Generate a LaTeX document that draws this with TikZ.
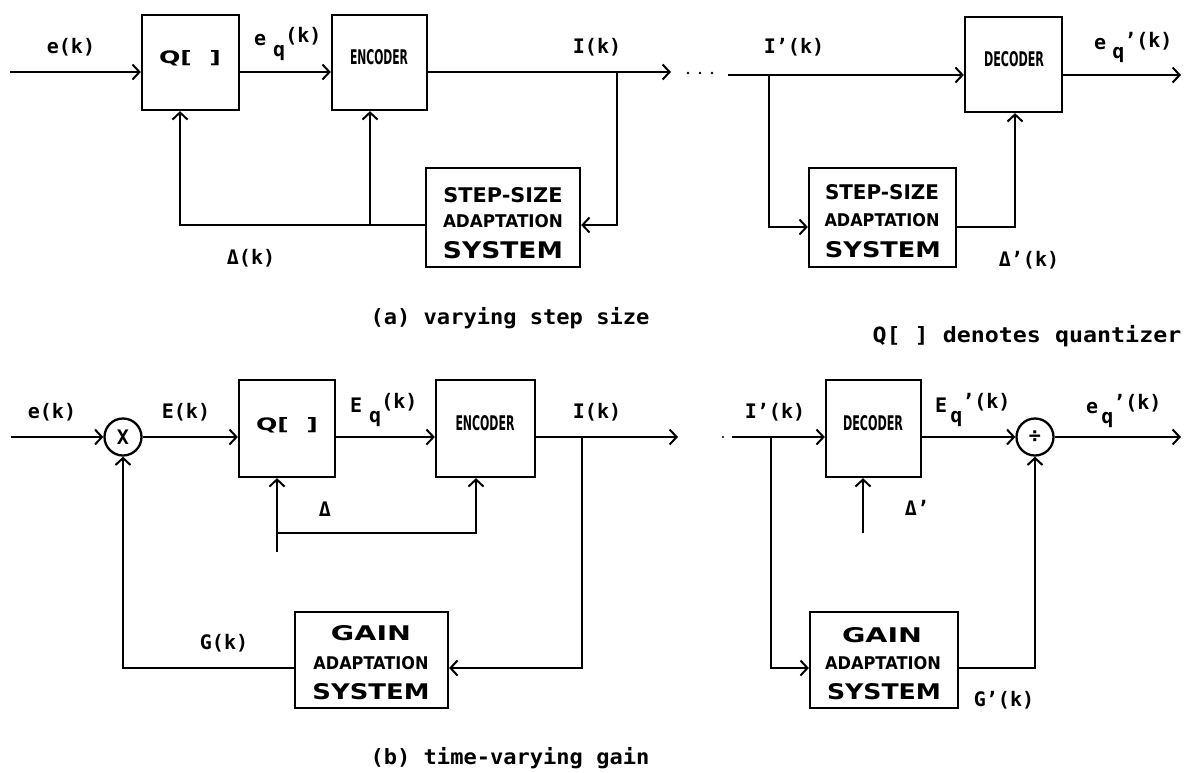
\documentclass[tikz,border=0pt]{standalone}
\usepackage{fontspec}
\usepackage{graphicx}
\usetikzlibrary{arrows.meta}
\newfontfamily\lblf{DejaVu Sans Mono}
\newfontfamily\capf[FakeStretch=1.05]{DejaVu Sans Mono}
\newfontfamily\capqf[FakeStretch=1.11]{DejaVu Sans Mono}
\newfontfamily\boxf{DejaVu Sans}
\newcommand{\mkfit}[3]{\resizebox{#1pt}{#2pt}{#3}}
\begin{document}
\begin{tikzpicture}[x=1pt,y=-1pt,
  blk/.style={draw, line width=2.3pt, inner sep=0pt},
  wire/.style={line width=2pt, line join=miter, -{Straight Barb[length=7pt,width=15pt]}},
  lbl/.style={font=\lblf\bfseries\fontsize{20}{22}\selectfont, inner sep=0pt},
  btxt/.style={inner sep=0pt},
  captxt/.style={font=\capf\bfseries\fontsize{21}{24}\selectfont, inner sep=0pt},
  sumj/.style={draw, circle, line width=2.3pt, minimum size=37pt, inner sep=0pt,
               font=\lblf\bfseries\fontsize{20}{22}\selectfont}]
\useasboundingbox (0,0) rectangle (1184,772);

% ---------- (a) boxes ----------
\node[blk, minimum width=97pt, minimum height=95pt] (q1) at (190.5,62.5) {};
\node[blk, minimum width=95pt, minimum height=95pt] (enc1) at (379.5,62.5) {};
\node[blk, minimum width=97pt, minimum height=95pt] (dec1) at (1013.5,64.5) {};
\node[blk, minimum width=154pt, minimum height=99pt] (step1) at (503,217.5) {};
\node[blk, minimum width=147pt, minimum height=99pt] (step2) at (882.5,217.5) {};

\node[btxt] (q1t) at (190,58) {\mkfit{62}{13}{\boxf\bfseries Q[\hspace{0.7em}]}};
\node[btxt] (enc1t) at (379,57) {\mkfit{58}{15}{\boxf\bfseries ENCODER}};
\node[btxt] (dec1t) at (1014,59) {\mkfit{60}{15}{\boxf\bfseries DECODER}};
\node[btxt] (s1a) at (503,195) {\mkfit{119}{15}{\boxf\bfseries STEP-SIZE}};
\node[btxt] (s1b) at (503,221) {\mkfit{120}{13}{\boxf\bfseries ADAPTATION}};
\node[btxt] (s1c) at (503,250) {\mkfit{120}{17}{\boxf\bfseries SYSTEM}};
\node[btxt] (s2a) at (882,192) {\mkfit{114}{15}{\boxf\bfseries STEP-SIZE}};
\node[btxt] (s2b) at (882,220) {\mkfit{115}{13}{\boxf\bfseries ADAPTATION}};
\node[btxt] (s2c) at (883,250) {\mkfit{116}{16}{\boxf\bfseries SYSTEM}};

% ---------- (a) labels ----------
\node[lbl] (ek1) at (71,47) {e(k)};
\node[lbl, anchor=base west] (eq1) at (254,45) {e\hspace{7pt}\raisebox{-11pt}{q}\raisebox{3pt}{(k)}};
\node[lbl] (ik1) at (597,47) {I(k)};
\node[lbl] (ipk1) at (794,47) {I’(k)};
\node[lbl, anchor=base west] (eqp1) at (1094,49) {e\hspace{6pt}\raisebox{-9pt}{q}\raisebox{2pt}{’(k)}};
\node[lbl] (dk1) at (251,258) {Δ(k)};
\node[lbl] (dpk1) at (1029,260) {Δ’(k)};

% ---------- (a) connectors ----------
\coordinate (in1) at (10,72);
\draw[wire] (in1) -- (in1 -| q1.west);
\draw[wire] (q1.east |- in1) -- (in1 -| enc1.west);
\coordinate (br1) at (617,72);
\coordinate (tip1) at (671,72);
\draw[wire] (enc1.east |- in1) -- (tip1);
\coordinate (fb1) at (617,225);
\draw[wire] (br1) -- (fb1) -- (fb1 -| step1.east);
\coordinate (fbq1) at (180,225);
\draw[wire] (step1.west |- fb1) -- (fbq1) -- (fbq1 |- q1.south);
\coordinate (fbe1) at (370,225);
\draw[wire] (fbe1) -- (fbe1 |- enc1.south);
\fill (688,73) circle (1.4pt) (700,73) circle (1.4pt) (712,73) circle (1.4pt);
\coordinate (rs1) at (728,75);
\draw[wire] (rs1) -- (rs1 -| dec1.west);
\coordinate (br2) at (769,75);
\coordinate (fb2) at (769,227);
\draw[wire] (br2) -- (fb2) -- (fb2 -| step2.west);
\coordinate (fbd) at (1015,227);
\draw[wire] (step2.east |- fb2) -- (fbd) -- (fbd |- dec1.south);
\coordinate (out1) at (1181,75);
\draw[wire] (dec1.east |- out1) -- (out1);

% ---------- captions ----------
\node[captxt] (capa) at (510,318) {(a) varying step size};
\node[captxt, font=\capqf\bfseries\fontsize{21}{24}\selectfont] (capq) at (1027,336) {Q[ ] denotes quantizer};
\node[captxt] (capb) at (510,758) {(b) time-varying gain};

% ---------- (b) boxes ----------
\node[sumj] (mul) at (123,437) {X};
\node[blk, minimum width=96pt, minimum height=97pt] (q2) at (287,428.5) {};
\node[blk, minimum width=99pt, minimum height=97pt] (enc2) at (485.5,428.5) {};
\node[blk, minimum width=95pt, minimum height=97pt] (dec2) at (873.5,428.5) {};
\node[sumj] (dv) at (1035,437) {÷};
\node[blk, minimum width=153pt, minimum height=96pt] (gain1) at (371.5,660) {};
\node[blk, minimum width=148pt, minimum height=96pt] (gain2) at (884,660) {};

\node[btxt] (q2t) at (287,425) {\mkfit{62}{13}{\boxf\bfseries Q[\hspace{0.7em}]}};
\node[btxt] (enc2t) at (485,423) {\mkfit{59}{15}{\boxf\bfseries ENCODER}};
\node[btxt] (dec2t) at (873,423) {\mkfit{60}{15}{\boxf\bfseries DECODER}};
\node[btxt] (g1a) at (371,633) {\mkfit{80}{15}{\boxf\bfseries GAIN}};
\node[btxt] (g1b) at (371,663) {\mkfit{115}{13}{\boxf\bfseries ADAPTATION}};
\node[btxt] (g1c) at (371,692) {\mkfit{117}{16}{\boxf\bfseries SYSTEM}};
\node[btxt] (g2a) at (882,635) {\mkfit{80}{15}{\boxf\bfseries GAIN}};
\node[btxt] (g2b) at (883,663) {\mkfit{116}{13}{\boxf\bfseries ADAPTATION}};
\node[btxt] (g2c) at (884,692) {\mkfit{114}{16}{\boxf\bfseries SYSTEM}};

% ---------- (b) labels ----------
\node[lbl] (ek2) at (52,412) {e(k)};
\node[lbl] (Ek2) at (186,412) {E(k)};
\node[lbl, anchor=base west] (Eq2) at (350,412) {E\hspace{7pt}\raisebox{-10pt}{q}\raisebox{4pt}{(k)}};
\node[lbl] (ik2) at (597,412) {I(k)};
\node[lbl] (ipk2) at (775,412) {I’(k)};
\node[lbl, anchor=base west] (Eqp2) at (935,412) {E\hspace{3pt}\raisebox{-10pt}{q}\raisebox{4pt}{’(k)}};
\node[lbl, anchor=base west] (eqp2) at (1086,413) {e\hspace{3pt}\raisebox{-10pt}{q}\raisebox{4pt}{’(k)}};
\node[lbl] (gk) at (224,643) {G(k)};
\node[lbl] (gpk) at (1004,700) {G’(k)};
\node[lbl] (dl2) at (325,509) {Δ};
\node[lbl] (dlp2) at (917,508) {Δ’};

% ---------- (b) connectors ----------
\coordinate (in2) at (11,437);
\draw[wire] (in2) -- (mul.west);
\draw[wire] (mul.east) -- (in2 -| q2.west);
\draw[wire] (q2.east |- in2) -- (in2 -| enc2.west);
\coordinate (tip2) at (678,437);
\draw[wire] (enc2.east |- in2) -- (tip2);
\coordinate (br3) at (582,437);
\coordinate (fb3) at (582,668);
\draw[wire] (br3) -- (fb3) -- (fb3 -| gain1.east);
\coordinate (fbm) at (123,668);
\draw[wire] (gain1.west |- fb3) -- (fbm) -- (mul.south);
\coordinate (dlt) at (277,552);
\draw[wire] (dlt) -- (dlt |- q2.south);
\coordinate (dh) at (277,533);
\coordinate (dh2) at (476,533);
\draw[wire] (dh) -- (dh2) -- (dh2 |- enc2.south);

\fill (723,437) circle (1.2pt);
\coordinate (rs2) at (732,437);
\draw[wire] (rs2) -- (rs2 -| dec2.west);
\draw[wire] (dec2.east |- rs2) -- (dv.west);
\coordinate (out2) at (1181,437);
\draw[wire] (dv.east) -- (out2);
\coordinate (dd) at (863,533);
\draw[wire] (dd) -- (dd |- dec2.south);
\coordinate (br4) at (771,437);
\coordinate (fb4) at (771,668);
\draw[wire] (br4) -- (fb4) -- (fb4 -| gain2.west);
\coordinate (fbdv) at (1035,668);
\draw[wire] (gain2.east |- fb4) -- (fbdv) -- (dv.south);
\end{tikzpicture}
\end{document}
